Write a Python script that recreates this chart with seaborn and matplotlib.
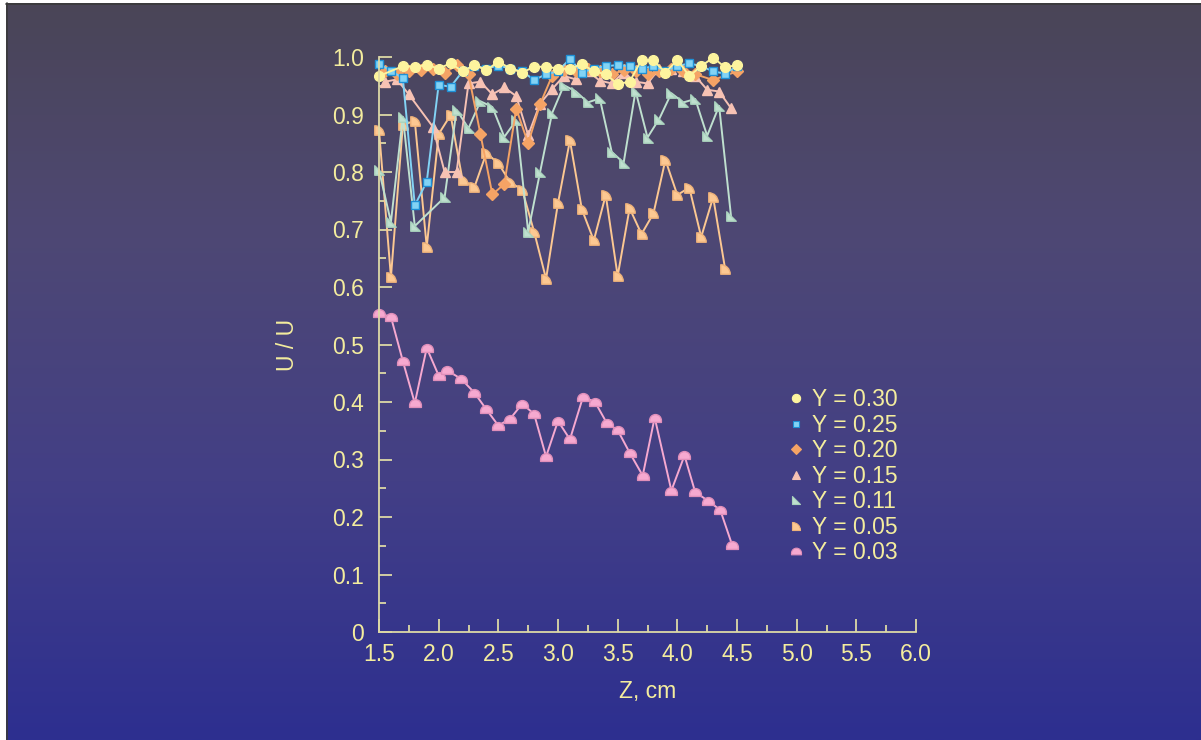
import numpy as np
import matplotlib
matplotlib.use("Agg")
import matplotlib.pyplot as plt
import seaborn as sns
from matplotlib.path import Path
from matplotlib.lines import Line2D
from matplotlib.colors import LinearSegmentedColormap

# ---- data: U/U profiles along Z (cm) at several Y positions ----
z_30 = [1.5, 1.7, 1.8, 1.9, 2.0, 2.1, 2.2, 2.3, 2.4, 2.5, 2.6, 2.7, 2.8, 2.9, 3.0,
        3.1, 3.2, 3.3, 3.4, 3.5, 3.6, 3.7, 3.8, 3.9, 4.0, 4.1, 4.2, 4.3, 4.4, 4.5]
u_30 = [0.967, 0.984, 0.983, 0.986, 0.980, 0.989, 0.975, 0.986, 0.977, 0.992, 0.980, 0.973,
        0.983, 0.983, 0.980, 0.979, 0.988, 0.975, 0.970, 0.953, 0.957, 0.995, 0.994, 0.973,
        0.995, 0.967, 0.984, 0.999, 0.982, 0.986]

z_25 = [1.5, 1.6, 1.7, 1.8, 1.9, 2.0, 2.1, 2.2, 2.3, 2.4, 2.5, 2.6, 2.7, 2.8, 2.9, 3.0,
        3.1, 3.2, 3.3, 3.4, 3.5, 3.6, 3.7, 3.8, 3.9, 4.0, 4.1, 4.2, 4.3, 4.4, 4.5]
u_25 = [0.988, 0.976, 0.963, 0.742, 0.783, 0.952, 0.948, 0.975, 0.985, 0.980, 0.985, 0.980,
        0.975, 0.960, 0.970, 0.975, 0.997, 0.973, 0.980, 0.984, 0.986, 0.984, 0.980, 0.984,
        0.976, 0.984, 0.989, 0.984, 0.975, 0.971, 0.984]

z_20 = [1.55, 1.65, 1.75, 1.85, 1.95, 2.05, 2.15, 2.25, 2.35, 2.45, 2.55, 2.65, 2.75, 2.85,
        2.95, 3.05, 3.15, 3.25, 3.35, 3.45, 3.55, 3.65, 3.75, 3.85, 3.95, 4.05, 4.15, 4.3, 4.5]
u_20 = [0.975, 0.970, 0.975, 0.978, 0.980, 0.972, 0.986, 0.970, 0.866, 0.761, 0.779, 0.910,
        0.850, 0.918, 0.967, 0.977, 0.975, 0.980, 0.975, 0.970, 0.977, 0.975, 0.970, 0.975,
        0.980, 0.975, 0.970, 0.960, 0.975]

z_15 = [1.55, 1.65, 1.75, 1.95, 2.05, 2.15, 2.25, 2.35, 2.45, 2.55, 2.65, 2.75, 2.85, 2.95,
        3.05, 3.15, 3.25, 3.35, 3.45, 3.55, 3.65, 3.75, 3.85, 3.95, 4.05, 4.15, 4.25, 4.35, 4.45]
u_15 = [0.957, 0.961, 0.935, 0.879, 0.800, 0.800, 0.954, 0.957, 0.935, 0.947, 0.932, 0.864,
        0.919, 0.944, 0.967, 0.961, 0.975, 0.959, 0.954, 0.973, 0.957, 0.954, 0.980, 0.980,
        0.975, 0.967, 0.943, 0.940, 0.911]

z_11 = [1.5, 1.6, 1.7, 1.8, 2.05, 2.15, 2.25, 2.35, 2.45, 2.55, 2.65, 2.75, 2.85, 2.95,
        3.05, 3.15, 3.25, 3.35, 3.45, 3.55, 3.65, 3.75, 3.85, 3.95, 4.05, 4.15, 4.25, 4.35, 4.45]
u_11 = [0.803, 0.713, 0.896, 0.706, 0.756, 0.908, 0.876, 0.923, 0.913, 0.861, 0.890, 0.696,
        0.800, 0.902, 0.951, 0.940, 0.921, 0.928, 0.835, 0.816, 0.941, 0.860, 0.893, 0.937,
        0.921, 0.927, 0.863, 0.915, 0.723]

z_05 = [1.5, 1.6, 1.7, 1.8, 1.9, 2.0, 2.1, 2.2, 2.3, 2.4, 2.5, 2.6, 2.7, 2.8, 2.9, 3.0,
        3.1, 3.2, 3.3, 3.4, 3.5, 3.6, 3.7, 3.8, 3.9, 4.0, 4.1, 4.2, 4.3, 4.4]
u_05 = [0.873, 0.617, 0.882, 0.889, 0.670, 0.866, 0.899, 0.786, 0.774, 0.833, 0.815, 0.782,
        0.769, 0.696, 0.614, 0.746, 0.855, 0.735, 0.681, 0.760, 0.619, 0.737, 0.692, 0.728,
        0.821, 0.760, 0.773, 0.687, 0.756, 0.632]

z_03 = [1.5, 1.6, 1.7, 1.8, 1.9, 2.0, 2.07, 2.19, 2.3, 2.4, 2.5, 2.6, 2.7, 2.8, 2.9, 3.0,
        3.1, 3.21, 3.31, 3.41, 3.5, 3.6, 3.71, 3.81, 3.95, 4.06, 4.15, 4.26, 4.36, 4.46]
u_03 = [0.554, 0.548, 0.471, 0.398, 0.494, 0.446, 0.455, 0.440, 0.416, 0.387, 0.359, 0.371,
        0.397, 0.379, 0.305, 0.367, 0.335, 0.409, 0.400, 0.363, 0.351, 0.312, 0.272, 0.373,
        0.246, 0.307, 0.243, 0.228, 0.212, 0.151]

labels = ["Y = 0.30", "Y = 0.25", "Y = 0.20", "Y = 0.15", "Y = 0.11", "Y = 0.05", "Y = 0.03"]
x_ticks = [1.5, 2.0, 2.5, 3.0, 3.5, 4.0, 4.5, 5.0, 5.5, 6.0]
y_ticks = [0.0, 0.1, 0.2, 0.3, 0.4, 0.5, 0.6, 0.7, 0.8, 0.9, 1.0]

# ---- custom marker shapes ----
def centered(verts, codes=None):
    v = np.asarray(verts, float)
    lo, hi = v.min(axis=0), v.max(axis=0)
    v = v - (lo + hi) / 2
    return Path(v, codes)

# quarter disc, square corner at lower left
quarter = Path.wedge(0, 90)
quarter_marker = centered(quarter.vertices, quarter.codes)

# cap: flat bottom, short straight sides, rounded top
arc = Path.arc(0, 180)
cap_verts = np.vstack([[[1.0, -0.33]], arc.vertices, [[-1.0, -0.33], [1.0, -0.33]]])
cap_codes = ([Path.MOVETO, Path.LINETO] + list(arc.codes[1:])
             + [Path.LINETO, Path.CLOSEPOLY])
cap_marker = centered(cap_verts, cap_codes)

# right triangle, right angle at lower left
rtri_marker = centered([(-1, -1), (1, -1), (-1, 1), (-1, -1)],
                       [Path.MOVETO, Path.LINETO, Path.LINETO, Path.CLOSEPOLY])

# ---- style ----
sns.set_theme(style="ticks")
plt.rcParams["font.family"] = ["Liberation Sans", "DejaVu Sans"]
text_col = "#f4ed9e"
spine_col = "#ddd9a6"
fs = 16.5

series = [
    # z, u, fill, edge, marker, size
    (z_03, u_03, "#f6a9d0", "#e08fba", cap_marker, 8.5),
    (z_05, u_05, "#fcc892", "#eeb27a", quarter_marker, 6.8),
    (z_11, u_11, "#bfe0cf", "#a9d2bd", rtri_marker, 6.8),
    (z_15, u_15, "#f7c2b4", "#f7c2b4", "^", 7.5),
    (z_20, u_20, "#f5a365", "#f5a365", "D", 6.0),
    (z_25, u_25, "#82d3f5", "#1e90d6", "s", 5.6),
    (z_30, u_30, "#fdf49e", "#fdf49e", "o", 7.0),
]

fig = plt.figure(figsize=(12.01, 7.40), dpi=100)
fig.patch.set_facecolor("white")

# gradient backdrop
bg = fig.add_axes([6 / 1201, 0, 1 - 6 / 1201, 1 - 3 / 740], zorder=0)
cmap = LinearSegmentedColormap.from_list(
    "bg", [(0.0, "#2d2f90"), (0.35, "#433f86"), (0.7, "#4e4873"), (1.0, "#4a4557")])
grad = np.linspace(0, 1, 256).reshape(-1, 1)
bg.imshow(grad, aspect="auto", cmap=cmap, origin="lower", extent=[0, 1, 0, 1])
bg.set_axis_off()
fig.add_artist(Line2D([6.5 / 1201, 6.5 / 1201], [0, 1 - 3 / 740], color="#3a3a3a",
                      lw=1.2, transform=fig.transFigure))
fig.add_artist(Line2D([6 / 1201, 1], [1 - 3.5 / 740, 1 - 3.5 / 740], color="#3a3a3a",
                      lw=1.2, transform=fig.transFigure))

ax = fig.add_axes([379 / 1201, 108 / 740, 537 / 1201, 575 / 740], zorder=1)
ax.patch.set_alpha(0)

for z, u, fc, ec, mk, ms in series:
    sns.lineplot(x=z, y=u, ax=ax, color=fc, marker=mk, markersize=ms,
                 markerfacecolor=fc, markeredgecolor=ec, markeredgewidth=1.0,
                 linewidth=1.4, sort=False, estimator=None, legend=False,
                 clip_on=False)

ax.set_xlim(1.5, 6.0)
ax.set_ylim(0, 1.0)
ax.set_xticks(x_ticks)
ax.set_xticklabels([f"{v:.1f}" for v in x_ticks])
ax.set_yticks(y_ticks)
ax.set_yticklabels(["0" if v == 0 else f"{v:.1f}" for v in y_ticks])
ax.set_xticks(np.arange(1.75, 6.0, 0.5), minor=True)
ax.set_yticks(np.arange(0.05, 1.0, 0.1), minor=True)

ax.tick_params(which="major", direction="in", length=9.5, width=1.3, color=spine_col,
               labelcolor=text_col, labelsize=fs)
ax.tick_params(axis="x", which="major", pad=8)
ax.tick_params(axis="y", which="major", pad=11)
ax.tick_params(which="minor", direction="in", length=4.7, width=1.3, color=spine_col)
for s in ("top", "right"):
    ax.spines[s].set_visible(False)
for s in ("left", "bottom"):
    ax.spines[s].set_color(spine_col)
    ax.spines[s].set_linewidth(1.3)

ax.set_xlabel("Z, cm", color=text_col, fontsize=fs, labelpad=10)
ax.set_ylabel("U / U", color=text_col, fontsize=fs, labelpad=24)

# legend: markers only, top series first
handles = []
for (z, u, fc, ec, mk, ms), lab in zip(series[::-1], labels):
    handles.append(Line2D([], [], linestyle="none", marker=mk, markersize=ms * 0.85,
                          markerfacecolor=fc, markeredgecolor=ec, markeredgewidth=0.8,
                          label=lab))
leg = ax.legend(handles=handles, loc="upper left", frameon=False,
                bbox_to_anchor=(786 / 1201, 1 - 388 / 740), bbox_transform=fig.transFigure,
                fontsize=fs, labelcolor=text_col, handlelength=0.9, handletextpad=0.25,
                labelspacing=0.11, borderpad=0, borderaxespad=0)

fig.savefig("out.png", dpi=100, facecolor=fig.get_facecolor())
